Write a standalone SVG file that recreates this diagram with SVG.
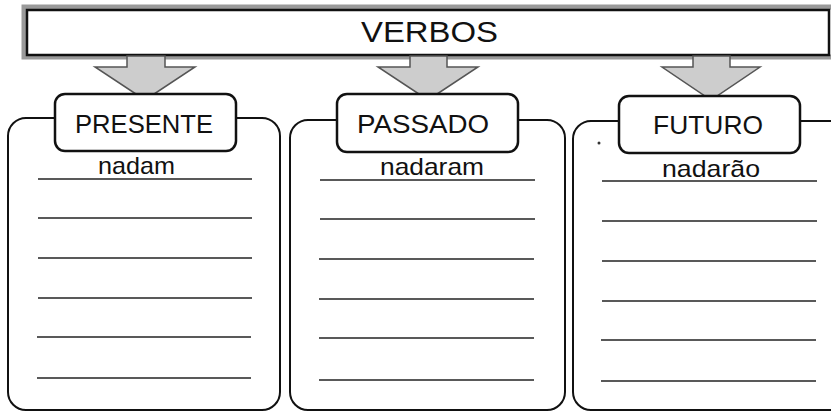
<svg xmlns="http://www.w3.org/2000/svg" width="831" height="412" viewBox="0 0 831 412">
<defs>
<style>
.bar-outer{fill:none;stroke:#9a9a9a;stroke-width:5}
.bar-inner{fill:#fff;stroke:#111;stroke-width:2.5}
.arrow{fill:#cdcdcd;stroke:#555;stroke-width:1.5;stroke-linejoin:miter}
.big{fill:#fff;stroke:#111;stroke-width:2}
.lbl{fill:#fff;stroke:#111;stroke-width:2.5}
.rule{stroke:#222;stroke-width:1.6}
.t{font-family:"Liberation Sans","DejaVu Sans",sans-serif;fill:#111}
.h{font-size:25px;text-anchor:start}
.w{font-size:24px}
</style>
</defs>
<rect width="831" height="412" fill="#fff"/>
<g id="verbos">
<rect class="bar-outer" x="24" y="7" width="810" height="50"/>
<rect class="bar-inner" x="27" y="10" width="802" height="45"/>
<text class="t" x="361" y="42" font-size="30" textLength="137" lengthAdjust="spacingAndGlyphs">VERBOS</text>
</g>
<g id="connectors">
<path class="arrow" d="M127,56 L127,67 L95,67 L145,100 L195,67 L165,67 L165,56 Z"/>
<path class="arrow" d="M410,56 L410,67 L378,67 L428,100 L478,67 L447,67 L447,56 Z"/>
<path class="arrow" d="M693,56 L693,67 L662,67 L711,100 L760,67 L730,67 L730,56 Z"/>
</g>
<g id="presente">
<rect class="big" x="8" y="118" width="272" height="292" rx="18"/>
<rect class="lbl" x="55" y="94" width="181" height="57" rx="10"/>
<text class="t h" x="75" y="133" textLength="138" lengthAdjust="spacingAndGlyphs">PRESENTE</text>
<text class="t w" x="98" y="174" textLength="77" lengthAdjust="spacingAndGlyphs">nadam</text>
<g class="rule">
<line x1="38" y1="179" x2="252" y2="179"/>
<line x1="38" y1="218" x2="252" y2="218"/>
<line x1="38" y1="258" x2="252" y2="258"/>
<line x1="38" y1="298" x2="252" y2="298"/>
<line x1="37" y1="337" x2="251" y2="337"/>
<line x1="37" y1="378" x2="251" y2="378"/>
</g>
</g>
<g id="passado">
<rect class="big" x="290" y="120" width="275" height="290" rx="18"/>
<rect class="lbl" x="337" y="94" width="181" height="58" rx="10"/>
<text class="t h" x="357" y="133" textLength="132" lengthAdjust="spacingAndGlyphs">PASSADO</text>
<text class="t w" x="380" y="175" textLength="104" lengthAdjust="spacingAndGlyphs">nadaram</text>
<g class="rule">
<line x1="320" y1="180" x2="535" y2="180"/>
<line x1="320" y1="219" x2="535" y2="219"/>
<line x1="319" y1="259" x2="534" y2="259"/>
<line x1="319" y1="299" x2="534" y2="299"/>
<line x1="319" y1="338" x2="534" y2="338"/>
<line x1="319" y1="380" x2="534" y2="380"/>
</g>
</g>
<g id="futuro">
<rect class="big" x="573" y="121" width="280" height="289" rx="18"/>
<circle cx="599" cy="143" r="1.5" fill="#333"/>
<rect class="lbl" x="619" y="96" width="181" height="57" rx="10"/>
<text class="t h" x="653" y="134" textLength="110" lengthAdjust="spacingAndGlyphs">FUTURO</text>
<text class="t w" x="662" y="177" textLength="98" lengthAdjust="spacingAndGlyphs">nadarão</text>
<g class="rule">
<line x1="602" y1="181" x2="817" y2="181"/>
<line x1="602" y1="221" x2="817" y2="221"/>
<line x1="602" y1="261" x2="816" y2="261"/>
<line x1="602" y1="301" x2="816" y2="301"/>
<line x1="601" y1="340" x2="816" y2="340"/>
<line x1="601" y1="381" x2="816" y2="381"/>
</g>
</g>
</svg>
